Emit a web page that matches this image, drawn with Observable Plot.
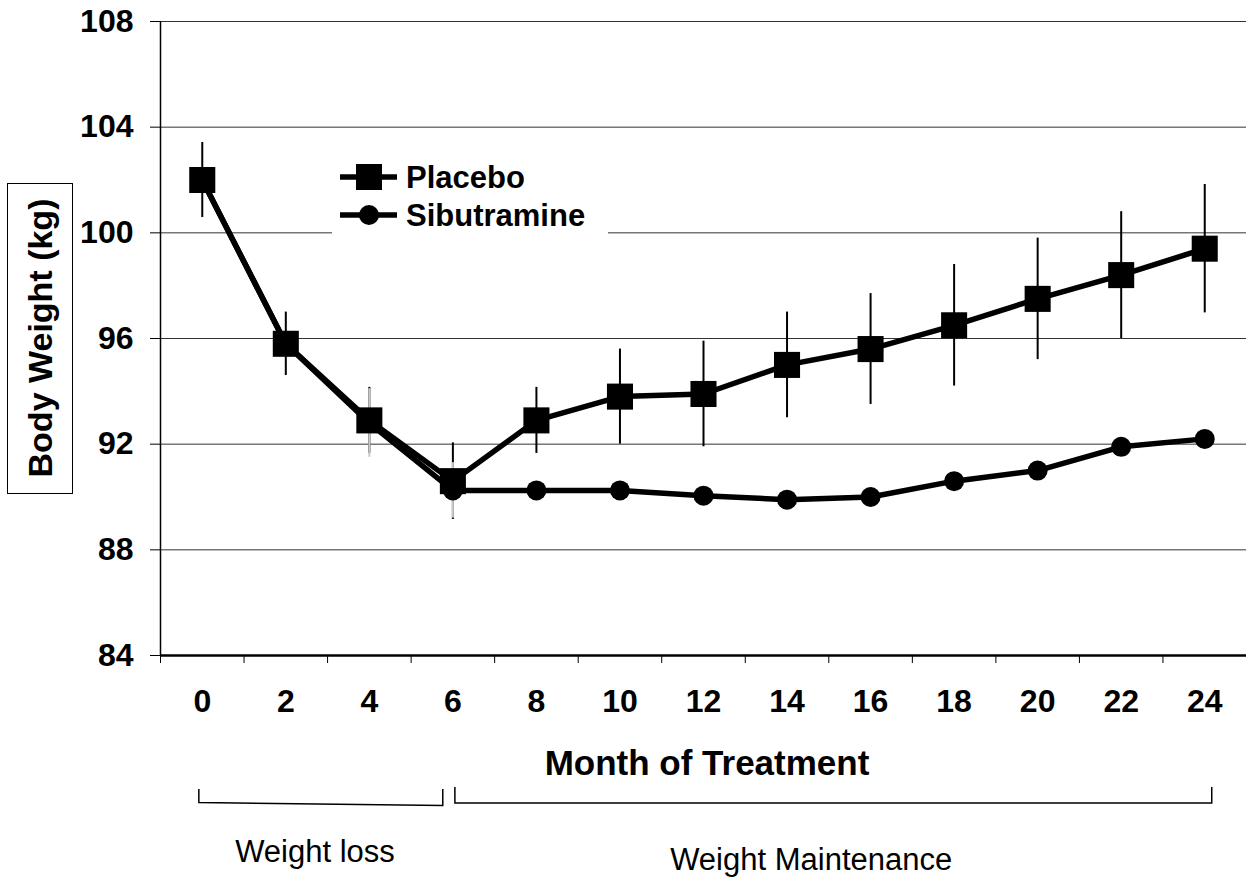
<!DOCTYPE html>
<html><head><meta charset="utf-8">
<script src="https://cdn.jsdelivr.net/npm/d3@7"></script>
<script src="https://cdn.jsdelivr.net/npm/@observablehq/plot@0.6"></script>
<style>body{margin:0;background:#fff} svg{display:block}</style>
</head><body><div id="chart"></div>
<script>
// ---- data ----
const months       = [0, 2, 4, 6, 8, 10, 12, 14, 16, 18, 20, 22, 24];
const placebo      = [102.0, 95.8, 92.9, 90.6, 92.9, 93.8, 93.9, 95.0, 95.6, 96.5, 97.5, 98.4, 99.4];
const placeboErr   = [1.42, 1.2, 1.25, 1.45, 1.25, 1.8, 2.0, 2.0, 2.1, 2.3, 2.3, 2.4, 2.43];
const sibutramine  = [102.0, 95.8, 92.8, 90.25, 90.25, 90.25, 90.05, 89.9, 90.0, 90.6, 91.0, 91.9, 92.2];
const sibErrMonths = [4, 6];
const sibErr       = [1.3, 1.05];
const yTicks       = [84, 88, 92, 96, 100, 104, 108];
const xBoundaries  = [-1, 1, 3, 5, 7, 9, 11, 13, 15, 17, 19, 21, 23, 25];
const seriesNames  = ["Placebo", "Sibutramine"];
const phaseLabels  = ["Weight loss", "Weight Maintenance"];
const phaseStart   = [-0.07, 6.06];
const phaseEnd     = [5.77, 24.18];
const phaseLabelAt = [2.71, 14.59];

const FONT = "'Liberation Sans', Arial, Helvetica, sans-serif";

const placeboRows = months.map((m, i) => ({month: m, value: placebo[i], lo: placebo[i] - placeboErr[i], hi: placebo[i] + placeboErr[i]}));
const sibRows = months.map((m, i) => ({month: m, value: sibutramine[i]}));
const sibErrRows = sibErrMonths.map((m, i) => {
  const v = sibutramine[months.indexOf(m)];
  return {month: m, lo: v - sibErr[i], hi: v + sibErr[i]};
});

const plot = Plot.plot({
  width: 1246, height: 878,
  marginLeft: 160, marginRight: 0, marginTop: 21, marginBottom: 223,
  x: {domain: [-1, 25], axis: null},
  y: {domain: [84, 108], axis: null},
  style: {fontFamily: FONT, background: "#fff", color: "#000", overflow: "visible"},
  marks: [
    Plot.ruleY(yTicks, {stroke: "#333", strokeWidth: 1}),
    Plot.axisY({ticks: yTicks, tickSize: 10, tickPadding: 17, fontSize: 32, fontWeight: "bold", label: null, strokeWidth: 1}),
    Plot.axisX({ticks: xBoundaries, tickSize: 8, tickFormat: () => "", label: null}),
    Plot.axisX({ticks: months, tickSize: 0, tickPadding: 34, fontSize: 32, fontWeight: "bold", label: null}),
    Plot.ruleX([-1], {y1: 84, y2: 108, stroke: "#000", strokeWidth: 1.5}),
    Plot.ruleY([84], {stroke: "#000", strokeWidth: 2.5}),
    Plot.ruleX(placeboRows, {x: "month", y1: "lo", y2: "hi", stroke: "#000", strokeWidth: 2}),
    Plot.ruleX(sibErrRows, {x: "month", y1: "lo", y2: "hi", stroke: "#c8c8c8", strokeWidth: 2}),
    Plot.line(placeboRows, {x: "month", y: "value", stroke: "#000", strokeWidth: 5.5}),
    Plot.line(sibRows, {x: "month", y: "value", stroke: "#000", strokeWidth: 5.5}),
    Plot.dot(sibRows, {x: "month", y: "value", symbol: "circle", r: 10, fill: "#000", stroke: "none"}),
    Plot.dot(placeboRows, {x: "month", y: "value", symbol: "square", r: 14.7, fill: "#000", stroke: "none"})
  ]
});

document.getElementById("chart").appendChild(plot);

// ---- annotations placed with the plot's own scales ----
const sx = plot.scale("x").apply;
const svg = d3.select(plot);
const g = svg.append("g").attr("font-family", FONT).attr("fill", "#000").attr("text-anchor", "start");

// Legend (white box interrupts gridline)
const leg = g.append("g");
leg.append("rect").attr("x", 332).attr("y", 142).attr("width", 276).attr("height", 100).attr("fill", "#fff");
const legY = [177, 215];
seriesNames.forEach((name, i) => {
  leg.append("line").attr("x1", 340).attr("x2", 397).attr("y1", legY[i]).attr("y2", legY[i])
    .attr("stroke", "#000").attr("stroke-width", 5.5);
  if (i === 0) leg.append("rect").attr("x", 356).attr("y", legY[i] - 13).attr("width", 26).attr("height", 26).attr("fill", "#000");
  else leg.append("circle").attr("cx", 369).attr("cy", legY[i]).attr("r", 10).attr("fill", "#000");
  leg.append("text").attr("x", 406).attr("y", legY[i] + 11).attr("text-anchor", "start")
    .attr("font-size", 31).attr("font-weight", "bold").text(name);
});

// X axis title
g.append("text").attr("x", (sx(-1) + sx(25)) / 2 + 4).attr("y", 775).attr("text-anchor", "middle")
  .attr("font-size", 35).attr("font-weight", "bold").text("Month of Treatment");

// Y axis title in box
g.append("rect").attr("x", 7.5).attr("y", 183.5).attr("width", 65).attr("height", 310)
  .attr("fill", "none").attr("stroke", "#000").attr("stroke-width", 1);
g.append("text").attr("transform", "translate(52,338) rotate(-90)").attr("text-anchor", "middle")
  .attr("font-size", 34).attr("font-weight", "bold").text("Body Weight (kg)");

// Phase brackets
const bTop = [789, 787], bBotL = [802.5, 803], bBotR = [805.5, 803], labBase = [862, 870];
phaseLabels.forEach((lab, i) => {
  const x1 = sx(phaseStart[i]), x2 = sx(phaseEnd[i]);
  g.append("path")
    .attr("d", `M${x1},${bTop[i]}V${bBotL[i]}L${x2},${bBotR[i]}V${bTop[i]}`)
    .attr("fill", "none").attr("stroke", "#000").attr("stroke-width", 1.5);
  g.append("text").attr("x", sx(phaseLabelAt[i])).attr("y", labBase[i]).attr("text-anchor", "middle")
    .attr("font-size", 31).text(lab);
});
</script>
</body></html>
